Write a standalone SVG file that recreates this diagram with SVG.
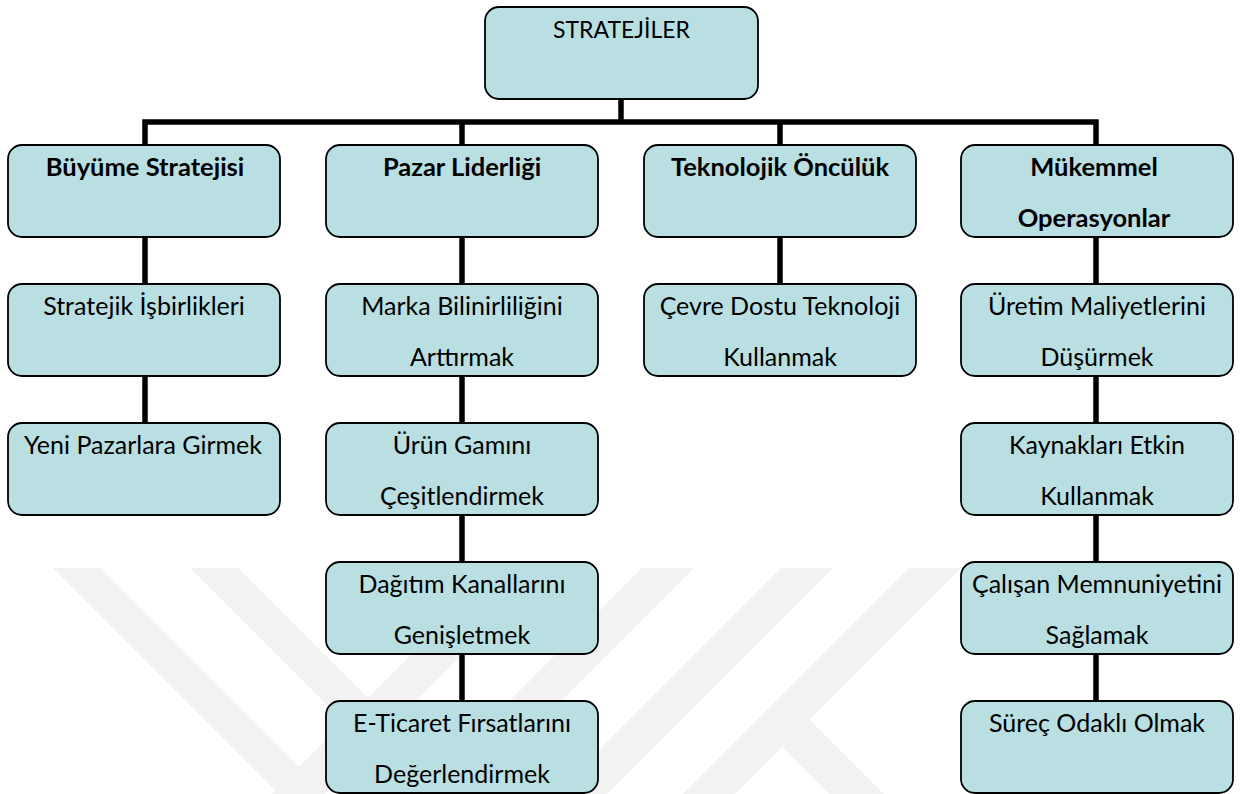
<svg xmlns="http://www.w3.org/2000/svg" width="1240" height="794" viewBox="0 0 1240 794">
  <style>
    .box { fill: #b9dfe2; stroke: #000; stroke-width: 1.8; }
    .lbl { font-family: Lato, "Open Sans", sans-serif; font-size: 25px; fill: #000; text-anchor: middle; }
    .head { font-weight: bold; font-size: 25.5px; }
    .root { font-size: 23px; }
    .link { fill: none; stroke: #000; stroke-width: 5.5; stroke-linejoin: miter; stroke-linecap: butt; }
    .wm { fill: #f2f2f2; }
  </style>

  <rect width="1240" height="794" fill="#fff"/>

  <!-- faint background emblem -->
  <g id="watermark">
    <polygon class="wm" points="53,568 100,568 326,794 279,794"/>
    <polygon class="wm" points="190,568 238,568 464,794 416,794"/>
    <polygon class="wm" points="498,568 549,568 323,794 272,794"/>
    <polygon class="wm" points="642,568 694,568 468,794 417,794"/>
    <polygon class="wm" points="781,568 833,568 607,794 555,794"/>
    <polygon class="wm" points="909,568 961,568 735,794 683,794"/>
    <polygon class="wm" points="782,747 809.5,719.5 884,794 829,794"/>
  </g>

  <!-- connectors -->
  <g id="connectors">
    <path class="link" d="M621,99 V122"/>
    <path class="link" d="M145,145 V122 H1096 V145"/>
    <path class="link" d="M462,122 V145"/>
    <path class="link" d="M780,122 V145"/>
    <!-- column 1 -->
    <path class="link" d="M145,237 V284 M145,376 V423"/>
    <!-- column 2 -->
    <path class="link" d="M462,237 V284 M462,376 V423 M462,515 V562 M462,654 V701"/>
    <!-- column 3 -->
    <path class="link" d="M780,237 V284"/>
    <!-- column 4 -->
    <path class="link" d="M1096,237 V284 M1096,376 V423 M1096,515 V562 M1096,654 V701"/>
  </g>

  <g id="root">
    <rect class="box" x="485" y="7" width="273" height="92" rx="14"/>
    <text class="lbl root" x="621.5" y="38">STRATEJİLER</text>
  </g>

  <!-- column 1 -->
  <g id="buyume">
    <rect class="box" x="8" y="145" width="272" height="92" rx="14"/>
    <text class="lbl head" x="145" y="176">Büyüme Stratejisi</text>
  </g>
  <g id="isbirlikleri">
    <rect class="box" x="8" y="284" width="272" height="92" rx="14"/>
    <text class="lbl" x="144" y="315">Stratejik İşbirlikleri</text>
  </g>
  <g id="yeni-pazarlar">
    <rect class="box" x="8" y="423" width="272" height="92" rx="14"/>
    <text class="lbl" x="143" y="454">Yeni Pazarlara Girmek</text>
  </g>

  <!-- column 2 -->
  <g id="pazar">
    <rect class="box" x="326" y="145" width="272" height="92" rx="14"/>
    <text class="lbl head" x="462" y="176">Pazar Liderliği</text>
  </g>
  <g id="marka">
    <rect class="box" x="326" y="284" width="272" height="92" rx="14"/>
    <text class="lbl" x="462" y="315">Marka Bilinirliliğini</text>
    <text class="lbl" x="462" y="366">Arttırmak</text>
  </g>
  <g id="urun-gami">
    <rect class="box" x="326" y="423" width="272" height="92" rx="14"/>
    <text class="lbl" x="462" y="454">Ürün Gamını</text>
    <text class="lbl" x="462" y="505">Çeşitlendirmek</text>
  </g>
  <g id="dagitim">
    <rect class="box" x="326" y="562" width="272" height="92" rx="14"/>
    <text class="lbl" x="462" y="593">Dağıtım Kanallarını</text>
    <text class="lbl" x="462" y="644">Genişletmek</text>
  </g>
  <g id="e-ticaret">
    <rect class="box" x="326" y="701" width="272" height="92" rx="14"/>
    <text class="lbl" x="462" y="732">E-Ticaret Fırsatlarını</text>
    <text class="lbl" x="462" y="783">Değerlendirmek</text>
  </g>

  <!-- column 3 -->
  <g id="teknoloji">
    <rect class="box" x="644" y="145" width="272" height="92" rx="14"/>
    <text class="lbl head" x="780" y="176">Teknolojik Öncülük</text>
  </g>
  <g id="cevre">
    <rect class="box" x="644" y="284" width="272" height="92" rx="14"/>
    <text class="lbl" x="780" y="315">Çevre Dostu Teknoloji</text>
    <text class="lbl" x="780" y="366">Kullanmak</text>
  </g>

  <!-- column 4 -->
  <g id="operasyon">
    <rect class="box" x="961" y="145" width="272" height="92" rx="14"/>
    <text class="lbl head" x="1094" y="176">Mükemmel</text>
    <text class="lbl head" x="1094" y="227">Operasyonlar</text>
  </g>
  <g id="maliyet">
    <rect class="box" x="961" y="284" width="272" height="92" rx="14"/>
    <text class="lbl" x="1097" y="315">Üretim Maliyetlerini</text>
    <text class="lbl" x="1097" y="366">Düşürmek</text>
  </g>
  <g id="kaynak">
    <rect class="box" x="961" y="423" width="272" height="92" rx="14"/>
    <text class="lbl" x="1097" y="454">Kaynakları Etkin</text>
    <text class="lbl" x="1097" y="505">Kullanmak</text>
  </g>
  <g id="calisan">
    <rect class="box" x="961" y="562" width="272" height="92" rx="14"/>
    <text class="lbl" x="1097" y="593">Çalışan Memnuniyetini</text>
    <text class="lbl" x="1097" y="644">Sağlamak</text>
  </g>
  <g id="surec">
    <rect class="box" x="961" y="701" width="272" height="92" rx="14"/>
    <text class="lbl" x="1097" y="732">Süreç Odaklı Olmak</text>
  </g>
</svg>
